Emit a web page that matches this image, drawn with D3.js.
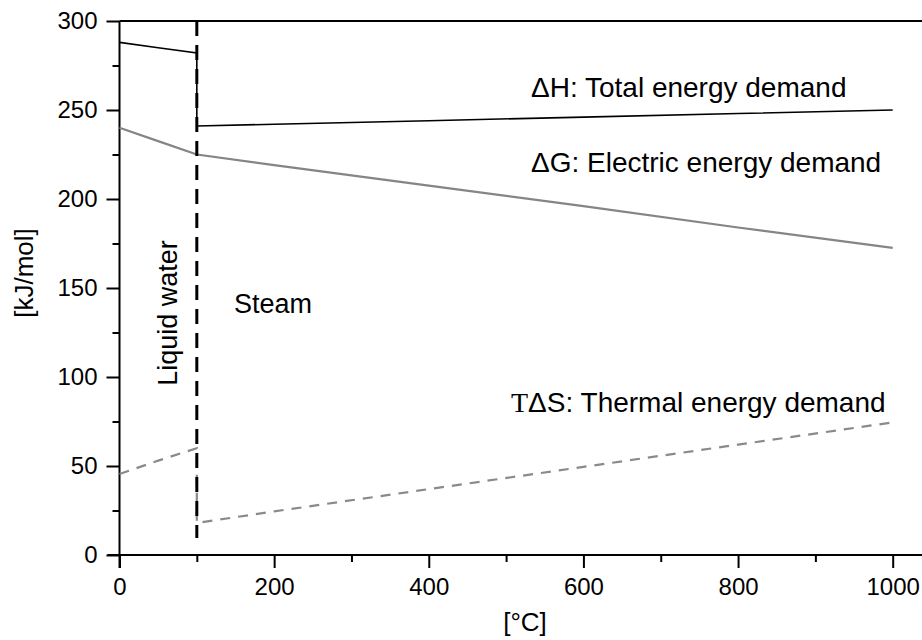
<!DOCTYPE html>
<html>
<head>
<meta charset="utf-8">
<script src="https://cdn.jsdelivr.net/npm/d3@7"></script>
<style>
  html, body { margin: 0; padding: 0; background: #fff; }
  svg { display: block; font-family: "Liberation Sans", Arial, sans-serif; }
</style>
</head>
<body>
<svg id="chart" width="922" height="640"></svg>
<script>
// Temperatures [°C] and energy demands [kJ/mol] of water electrolysis
const liquidTemps = [0, 50, 100];
const steamTemps = [100, 200, 400, 600, 800, 1000];

const dH_liquid = [288, 285, 282];
const dH_steam = [241, 242, 244, 246, 248, 250];

const dG_liquid = [240, 232.5, 225];
const dG_steam = [225, 219, 207.5, 196, 184, 172.5];

const TdS_liquid = [45.5, 53, 60];
const TdS_steam = [18, 24.5, 37, 49.5, 62, 74.5];

const boilingPoint = 100;
const phaseLineBottom = 9.5;

const xTicks = [0, 200, 400, 600, 800, 1000];
const xMinorTicks = [100, 300, 500, 700, 900];
const yTicks = [0, 50, 100, 150, 200, 250, 300];
const yMinorTicks = [25, 75, 125, 175, 225, 275];

const svg = d3.select("#chart");
const plotLeft = 119.5, plotTop = 21, plotBottom = 555;

const x = d3.scaleLinear().domain([0, 1000]).range([plotLeft, 892.7]);
const y = d3.scaleLinear().domain([0, 300]).range([plotBottom, plotTop]);
const xEnd = 923;

// joins the liquid and steam branch, with the vertical jump at the boiling point
function series(lt, lv, st, sv) {
  return lt.map((t, i) => [t, lv[i]]).concat(st.map((t, i) => [t, sv[i]]));
}
const line = d3.line().x(d => x(d[0])).y(d => y(d[1]));

// top frame line
svg.append("line").attr("x1", plotLeft).attr("x2", xEnd).attr("y1", plotTop).attr("y2", plotTop)
  .attr("stroke", "#000").attr("stroke-width", 2);

// x axis
const xAxis = svg.append("g").attr("transform", `translate(0,${plotBottom})`);
xAxis.append("line").attr("x1", plotLeft - 12).attr("x2", xEnd).attr("stroke", "#000").attr("stroke-width", 2);
xAxis.append("g").call(d3.axisBottom(x).tickValues(xTicks).tickSize(13).tickPadding(10).tickFormat(d3.format("d")));
xAxis.append("g").call(d3.axisBottom(x).tickValues(xMinorTicks).tickSize(7).tickFormat(""));
xAxis.selectAll(".domain").remove();
xAxis.selectAll(".tick line").attr("stroke", "#000").attr("stroke-width", 2);
xAxis.selectAll(".tick text").attr("font-size", 24).attr("fill", "#000")
  .attr("font-family", "Liberation Sans, Arial, sans-serif");

// y axis
const yAxis = svg.append("g").attr("transform", `translate(${plotLeft},0)`);
yAxis.append("line").attr("y1", plotTop).attr("y2", plotBottom + 13).attr("stroke", "#000").attr("stroke-width", 2);
yAxis.append("g").call(d3.axisLeft(y).tickValues(yTicks).tickSize(13).tickPadding(9).tickFormat(d3.format("d")));
yAxis.append("g").call(d3.axisLeft(y).tickValues(yMinorTicks).tickSize(7).tickFormat(""));
yAxis.selectAll(".domain").remove();
yAxis.selectAll(".tick line").attr("stroke", "#000").attr("stroke-width", 2);
yAxis.selectAll(".tick text").attr("font-size", 24).attr("fill", "#000")
  .attr("font-family", "Liberation Sans, Arial, sans-serif");

// energy curves
svg.append("path").datum(series(liquidTemps, dG_liquid, steamTemps, dG_steam))
  .attr("d", line).attr("fill", "none").attr("stroke", "#858585").attr("stroke-width", 2.2);
svg.append("path").datum(series(liquidTemps, TdS_liquid, steamTemps, TdS_steam))
  .attr("d", line).attr("fill", "none").attr("stroke", "#8a8a8a").attr("stroke-width", 2.2)
  .attr("stroke-dasharray", "10,8");

// liquid / steam boundary
svg.append("line")
  .attr("x1", x(boilingPoint)).attr("x2", x(boilingPoint))
  .attr("y1", y(300)).attr("y2", y(phaseLineBottom))
  .attr("stroke", "#000").attr("stroke-width", 3).attr("stroke-dasharray", "15,9");

svg.append("path").datum(series(liquidTemps, dH_liquid, steamTemps, dH_steam))
  .attr("d", line).attr("fill", "none").attr("stroke", "#000").attr("stroke-width", 1.6);

// annotations
const fs = 28;
function label(txt, px, py, opts = {}) {
  const t = svg.append("text").attr("font-size", opts.size || fs).attr("fill", "#000")
    .attr("text-anchor", opts.anchor || "start");
  if (opts.rotate) t.attr("transform", `translate(${px},${py}) rotate(-90)`);
  else t.attr("x", px).attr("y", py);
  if (Array.isArray(txt)) txt.forEach(([s, fam]) => {
    const ts = t.append("tspan").text(s);
    if (fam) ts.attr("font-family", fam);
  });
  else t.text(txt);
  return t;
}
label("ΔH: Total energy demand", 531, 97);
label("ΔG: Electric energy demand", 531, 172);
label([["T", "Liberation Serif, Times New Roman, serif"], ["ΔS: Thermal energy demand"]], 511, 412);
label("Steam", 234, 313, { size: 27 });
label("Liquid water", 177, 313, { rotate: true, anchor: "middle", size: 27 });
label("[kJ/mol]", 33, 273, { rotate: true, anchor: "middle", size: 26 });
label("[°C]", 525, 631, { anchor: "middle", size: 26 });
</script>
</body>
</html>
